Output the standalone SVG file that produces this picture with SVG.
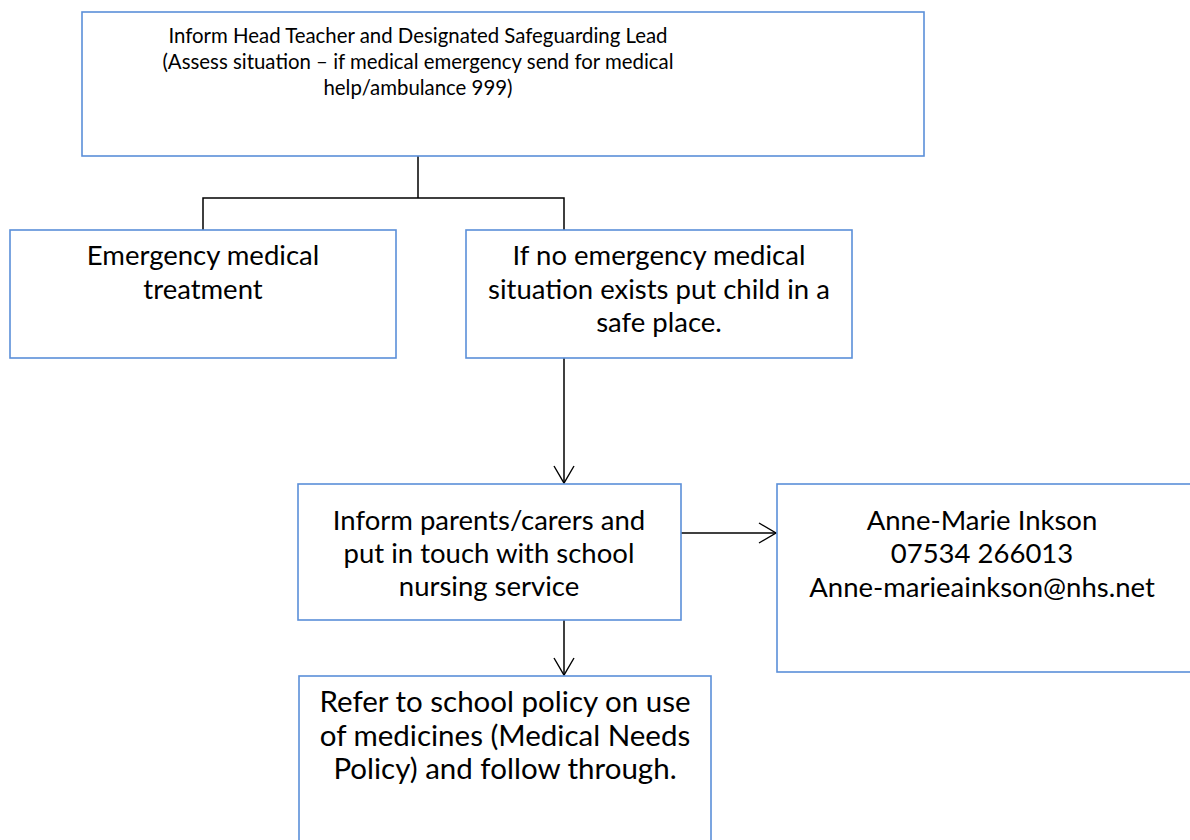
<svg xmlns="http://www.w3.org/2000/svg" width="1190" height="840" viewBox="0 0 1190 840">
<style>
.box{fill:#fff;stroke:#5b8fd9;stroke-width:1.6}
.t{font-family:Lato,"Liberation Sans",sans-serif;fill:#000;text-anchor:middle}
.s1{font-size:20.4px}
.s2{font-size:27.5px}
.s3{font-size:29.5px}
.c{fill:none;stroke:#000;stroke-width:1.5}
</style>
<defs>
<marker id="ah" markerWidth="24" markerHeight="24" refX="18" refY="11" orient="auto" markerUnits="userSpaceOnUse">
<path d="M1,1 L18,11 L1,21" fill="none" stroke="#000" stroke-width="1.4"/>
</marker>
</defs>
<rect width="1190" height="840" fill="#fff"/>
<g id="connectors">
<path class="c" d="M418,156 V198 M203,230 V198 H564 V230"/>
<path class="c" d="M564,358 V483" marker-end="url(#ah)"/>
<path class="c" d="M681,533 H776" marker-end="url(#ah)"/>
<path class="c" d="M564,620 V675" marker-end="url(#ah)"/>
</g>
<g id="n1">
<rect class="box" x="82" y="12" width="842" height="144"/>
<text class="t s1" x="418" y="43">Inform Head Teacher and Designated Safeguarding Lead</text>
<text class="t s1" x="418" y="69">(Assess situation – if medical emergency send for medical</text>
<text class="t s1" x="418" y="95">help/ambulance 999)</text>
</g>
<g id="n2">
<rect class="box" x="10" y="230" width="386" height="128"/>
<text class="t s2" x="203" y="265">Emergency medical</text>
<text class="t s2" x="203" y="299">treatment</text>
</g>
<g id="n3">
<rect class="box" x="466" y="230" width="386" height="128"/>
<text class="t s2" x="659" y="265">If no emergency medical</text>
<text class="t s2" x="659" y="299">situation exists put child in a</text>
<text class="t s2" x="659" y="332">safe place.</text>
</g>
<g id="n4">
<rect class="box" x="298" y="484" width="383" height="136"/>
<text class="t s2" x="489" y="530">Inform parents/carers and</text>
<text class="t s2" x="489" y="563">put in touch with school</text>
<text class="t s2" x="489" y="596">nursing service</text>
</g>
<g id="n5">
<rect class="box" x="777" y="484" width="420" height="188"/>
<text class="t s2" x="982" y="530">Anne-Marie Inkson</text>
<text class="t s2" x="982" y="563">07534 266013</text>
<text class="t s2" x="982" y="597">Anne-marieainkson@nhs.net</text>
</g>
<g id="n6">
<rect class="box" x="299" y="676" width="412" height="180"/>
<text class="t s3" x="505" y="712">Refer to school policy on use</text>
<text class="t s3" x="505" y="746">of medicines (Medical Needs</text>
<text class="t s3" x="505" y="779">Policy) and follow through.</text>
</g>
</svg>
